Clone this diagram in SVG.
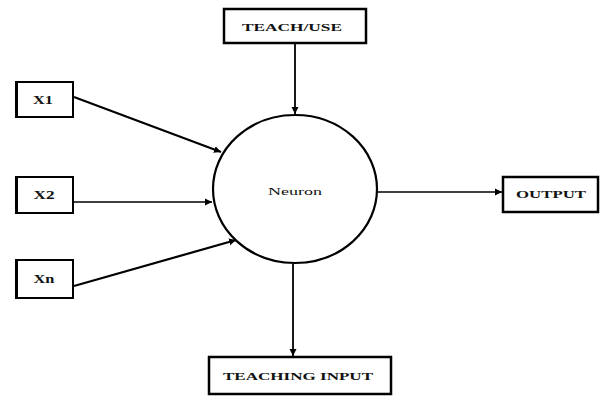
<svg xmlns="http://www.w3.org/2000/svg" width="604" height="396" viewBox="0 0 604 396">
<style>
.box{fill:#fff;stroke:#000;stroke-width:2.5}
.lbl{font-family:"Liberation Serif",serif;font-weight:bold;font-size:11px;fill:#111;text-anchor:middle;dominant-baseline:central}
.xl{font-size:12px}
.c{fill:none;stroke:#000;stroke-width:1.8}
</style>
<defs>
<marker id="ah" markerWidth="8" markerHeight="8" refX="7" refY="4" orient="auto" markerUnits="userSpaceOnUse">
<path d="M0,0.5 L7,4 L0,7.5 Z" fill="#000"/>
</marker>
</defs>
<rect width="604" height="396" fill="#fff"/>
<g id="connectors">
<line class="c" x1="295" y1="44" x2="295" y2="114" marker-end="url(#ah)"/>
<line class="c" x1="74" y1="97" x2="221" y2="152" marker-end="url(#ah)" style="stroke-width:2.2"/>
<line class="c" x1="74" y1="202" x2="212" y2="202" marker-end="url(#ah)" style="stroke-width:1.4"/>
<line class="c" x1="74" y1="286" x2="236" y2="240" marker-end="url(#ah)" style="stroke-width:2.2"/>
<line class="c" x1="378" y1="192" x2="502" y2="192" marker-end="url(#ah)" style="stroke-width:1.4"/>
<line class="c" x1="293" y1="264" x2="293" y2="356" marker-end="url(#ah)"/>
</g>
<g id="teach_use">
<rect class="box" x="224" y="9" width="142" height="34"/>
<text class="lbl" x="292" y="27" textLength="100" lengthAdjust="spacingAndGlyphs">TEACH/USE</text>
</g>
<g id="x1">
<rect class="box" x="16" y="82" width="57" height="35" style="stroke-width:2"/>
<line x1="16.5" y1="81" x2="16.5" y2="118" stroke="#000" stroke-width="3"/>
<text class="lbl xl" x="43" y="100" textLength="20" lengthAdjust="spacingAndGlyphs">X1</text>
</g>
<g id="x2">
<rect class="box" x="16" y="177" width="57" height="36" style="stroke-width:2"/>
<line x1="16.5" y1="176" x2="16.5" y2="214" stroke="#000" stroke-width="3"/>
<text class="lbl xl" x="44" y="195" textLength="21" lengthAdjust="spacingAndGlyphs">X2</text>
</g>
<g id="xn">
<rect class="box" x="16" y="260" width="57" height="38" style="stroke-width:2"/>
<line x1="16.5" y1="259" x2="16.5" y2="299" stroke="#000" stroke-width="3"/>
<text class="lbl xl" x="44" y="279" textLength="21" lengthAdjust="spacingAndGlyphs">Xn</text>
</g>
<g id="neuron">
<ellipse cx="295" cy="189" rx="82" ry="74" fill="#fff" stroke="#000" stroke-width="2.2"/>
<text class="lbl" x="295" y="191" style="font-weight:normal" textLength="54" lengthAdjust="spacingAndGlyphs">Neuron</text>
</g>
<g id="output">
<rect class="box" x="503" y="177" width="95" height="35"/>
<text class="lbl" x="551" y="194" textLength="70" lengthAdjust="spacingAndGlyphs">OUTPUT</text>
</g>
<g id="teaching_input">
<rect class="box" x="209" y="357" width="182" height="37"/>
<text class="lbl" x="298" y="376" textLength="150" lengthAdjust="spacingAndGlyphs">TEACHING INPUT</text>
</g>
</svg>
